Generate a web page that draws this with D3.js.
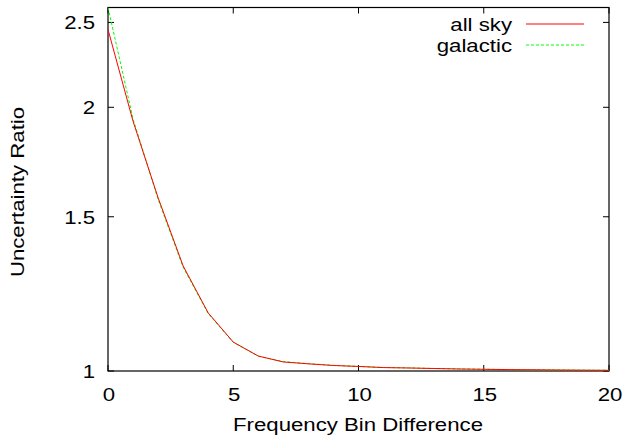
<!DOCTYPE html>
<html><head><meta charset="utf-8">
<script src="https://cdn.jsdelivr.net/npm/d3@7"></script>
<style>body{margin:0;background:#fff}svg{display:block}text{font-family:"Liberation Sans",Arial,sans-serif}</style>
</head><body><svg id="c" width="626" height="439"></svg>
<script>
const bins = d3.range(0, 21);
const allSky = [2.454,1.928,1.577,1.318,1.165,1.079,1.040,1.024,1.019,1.0146,1.012,1.009,1.008,1.0066,1.0053,1.0045,1.0037,1.0032,1.0026,1.0021,1.0018];
const galactic = [2.6,1.94,1.570,1.313,1.163,1.078,1.040,1.025,1.0195,1.015,1.0122,1.0093,1.0081,1.0067,1.0055,1.0046,1.0038,1.0032,1.0027,1.0022,1.0019];
const xTicks = [0,5,10,15,20];
const yTicks = [1,1.5,2,2.5];
const seriesNames = ["all sky","galactic"];
const colors = ["#ff0000","#00ff00"];

const svg = d3.select("#c");
const L=108, R=609, T=7.5, B=371;
const x = d3.scaleLinear().domain([0,20]).range([L,R]);
const y = d3.scaleLog().domain([1,2.6]).range([B,T]);
const FS = 18.5, SX = 1.2;

function label(px, py, str, anchor, rot) {
  return svg.append("g").attr("transform", `translate(${px},${py}) rotate(${rot||0}) scale(${SX},1)`)
    .append("text").attr("x",0).attr("y",0).attr("text-anchor",anchor).attr("font-size",FS).text(str);
}

svg.append("clipPath").attr("id","clip").append("rect").attr("x",L).attr("y",T).attr("width",R-L).attr("height",B-T);

const g = svg.append("g");
const tk = 6;
xTicks.forEach(t=>{
  g.append("line").attr("x1",x(t)).attr("x2",x(t)).attr("y1",B).attr("y2",B-tk).attr("stroke","#000");
  g.append("line").attr("x1",x(t)).attr("x2",x(t)).attr("y1",T).attr("y2",T+tk).attr("stroke","#000");
  label(x(t)+1, B+30, String(t), "middle");
});
yTicks.forEach(t=>{
  g.append("line").attr("x1",L).attr("x2",L+tk).attr("y1",y(t)).attr("y2",y(t)).attr("stroke","#000");
  g.append("line").attr("x1",R).attr("x2",R-tk).attr("y1",y(t)).attr("y2",y(t)).attr("stroke","#000");
  label(L-13, y(t)+7, d3.format("")(t), "end");
});
g.append("rect").attr("x",L).attr("y",T).attr("width",R-L).attr("height",B-T).attr("fill","none").attr("stroke","#000").attr("stroke-width",1.2);

const line = d3.line().x((d,i)=>x(bins[i])).y(d=>y(d));
const data = [allSky, galactic];
const dashes = [null, "3,2"];
[1,0].forEach(k=>{
  svg.append("path").attr("clip-path","url(#clip)").attr("d",line(data[k])).attr("fill","none")
    .attr("stroke",colors[k]).attr("stroke-width",1).attr("stroke-dasharray",dashes[k]);
});

seriesNames.forEach((n,k)=>{
  const ly = 24 + k*21;
  label(512, ly+6.5, n, "end");
  svg.append("line").attr("x1",526).attr("x2",584).attr("y1",ly).attr("y2",ly).attr("stroke",colors[k]).attr("stroke-width",1).attr("stroke-dasharray",dashes[k]);
});

label(358, 431, "Frequency Bin Difference", "middle");
label(24, 192, "Uncertainty Ratio", "middle", -90);
</script></body></html>
